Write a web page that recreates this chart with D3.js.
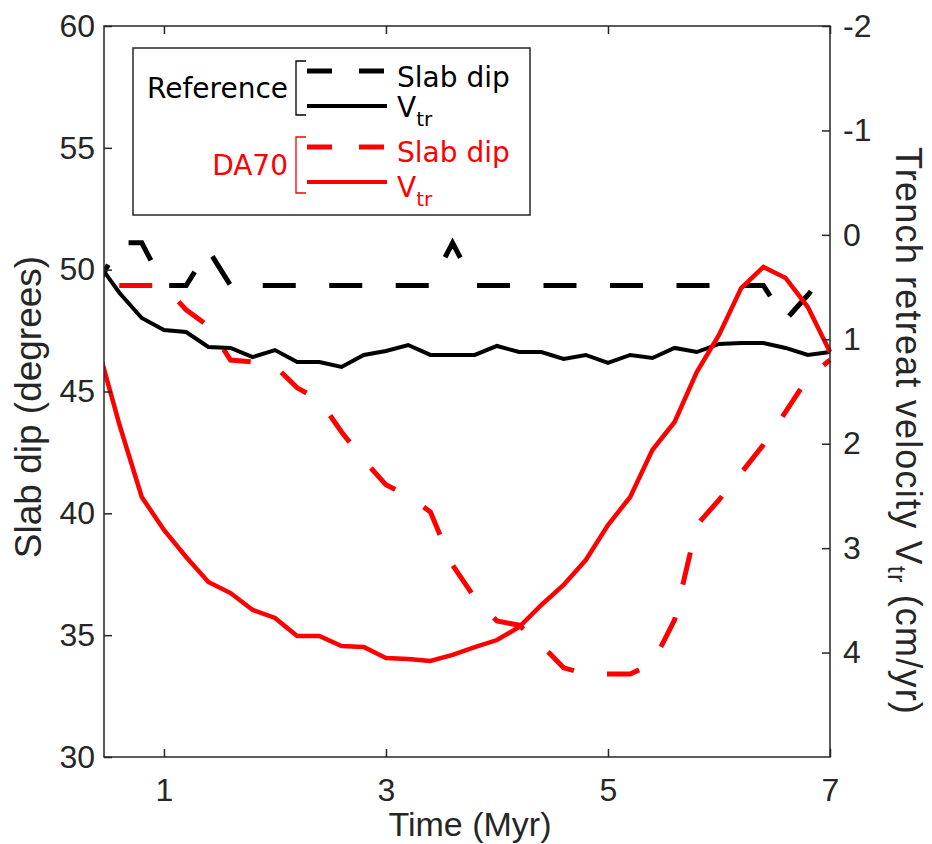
<!DOCTYPE html>
<html>
<head>
<meta charset="utf-8">
<script src="https://cdn.jsdelivr.net/npm/d3@7"></script>
<style>
  html, body { margin: 0; padding: 0; background: #fff; }
  svg { display: block; }
</style>
</head>
<body>
<svg id="chart" width="932" height="844"></svg>
<script>
// Model time (Myr)
const times = [0.4, 0.6, 0.8, 1.0, 1.2, 1.4, 1.6, 1.8, 2.0, 2.2, 2.4, 2.6, 2.8, 3.0, 3.2, 3.4, 3.6,
               3.8, 4.0, 4.2, 4.4, 4.6, 4.8, 5.0, 5.2, 5.4, 5.6, 5.8, 6.0, 6.2, 6.4, 6.6, 6.8, 7.0];

// Reference model: slab dip (degrees) and trench retreat velocity (cm/yr)
const refDip = [49.35, 51.10, 51.10, 49.35, 49.35, 50.81, 49.35, 49.35, 49.35, 49.35, 49.35, 49.35,
                49.35, 49.35, 49.35, 49.35, 51.10, 49.35, 49.35, 49.35, 49.35, 49.35, 49.35, 49.35,
                49.35, 49.35, 49.35, 49.35, 49.35, 49.35, 49.35, 47.94, 48.96, 50.07];
const refVtr = [0.26, 0.557, 0.796, 0.911, 0.93, 1.074, 1.083, 1.17, 1.103, 1.217, 1.217, 1.265,
                1.15, 1.112, 1.055, 1.15, 1.15, 1.15, 1.064, 1.122, 1.122, 1.189, 1.15, 1.227,
                1.15, 1.179, 1.083, 1.122, 1.045, 1.036, 1.036, 1.083, 1.15, 1.122];

// DA70 model
const daDip = [49.35, 49.35, 49.35, 49.35, 48.35, 47.69, 46.29, 46.21, 46.05, 45.15, 44.65, 43.34,
               42.19, 41.17, 40.71, 40.06, 37.88, 36.53, 35.58, 35.41, 34.60, 33.66, 33.41, 33.41,
               33.41, 33.82, 35.63, 39.52, 40.55, 41.66, 42.81, 44.16, 45.56, 46.29];
const daVtr = [1.055, 1.821, 2.51, 2.826, 3.085, 3.324, 3.43, 3.592, 3.669, 3.841, 3.841, 3.937,
               3.947, 4.052, 4.062, 4.081, 4.023, 3.947, 3.88, 3.755, 3.544, 3.353, 3.114, 2.779,
               2.51, 2.06, 1.792, 1.313, 0.959, 0.509, 0.308, 0.413, 0.691, 1.122];

// Tick values
const xTicks = [1, 3, 5, 7];
const dipTicks = [30, 35, 40, 45, 50, 55, 60];
const vtrTicks = [-2, -1, 0, 1, 2, 3, 4];

const AX = "#262626";
const RED = "#ff0000";
const FONT = "'Liberation Sans', Arial, Helvetica, sans-serif";
const LFONT = "'DejaVu Sans', Verdana, sans-serif";
const DASH = 33, GAP = 33.5;

const m = { left: 104, right: 830, top: 26, bottom: 757 };
const svg = d3.select("#chart");
svg.append("rect").attr("width", 932).attr("height", 844).attr("fill", "#fff");

const x = d3.scaleLinear().domain([0.46, 7]).range([m.left, m.right]);
const yDip = d3.scaleLinear().domain([30, 60]).range([m.bottom, m.top]);
const yVtr = d3.scaleLinear().domain([-2, 5]).range([m.top, m.bottom]);

// clip lines to the axes box
svg.append("clipPath").attr("id", "plotclip")
  .append("rect").attr("x", m.left).attr("y", m.top)
  .attr("width", m.right - m.left + 2).attr("height", m.bottom - m.top);

const plot = svg.append("g").attr("clip-path", "url(#plotclip)");

// path length from the first vertex up to screen position xs
function lengthTo(vals, yScale, xs) {
  let L = 0;
  for (let i = 1; i < vals.length; i++) {
    const x0 = x(times[i - 1]), x1 = x(times[i]);
    const y0 = yScale(vals[i - 1]), y1 = yScale(vals[i]);
    const d = Math.hypot(x1 - x0, y1 - y0);
    if (x1 < xs) { L += d; } else { L += d * (xs - x0) / (x1 - x0); break; }
  }
  return L;
}

function drawLine(vals, yScale, color, width, dashStartX) {
  const line = d3.line().x((d, i) => x(times[i])).y(d => yScale(d));
  const p = plot.append("path")
    .datum(vals)
    .attr("d", line)
    .attr("fill", "none")
    .attr("stroke", color)
    .attr("stroke-width", width)
    .attr("stroke-linejoin", "miter");
  if (dashStartX != null) {
    const period = DASH + GAP;
    const L = lengthTo(vals, yScale, dashStartX);
    p.attr("stroke-dasharray", `${DASH},${GAP}`)
     .attr("stroke-dashoffset", period - (L % period));
  }
  return p;
}

// left-axis series first, then right-axis series on top
drawLine(refDip, yDip, "#000", 5, 477);
drawLine(daDip, yDip, RED, 5, 607);
drawLine(refVtr, yVtr, "#000", 4, null);
drawLine(daVtr, yVtr, RED, 4.5, null);

// axes (ticks pointing inward)
function styleAxis(g) {
  g.select(".domain").remove();
  g.selectAll(".tick line").attr("stroke", AX).attr("stroke-width", 1.5);
  g.selectAll(".tick text").attr("fill", AX).style("font-family", FONT).style("font-size", "32px");
}

svg.append("g").attr("transform", `translate(0,${m.bottom})`)
  .call(d3.axisBottom(x).tickValues(xTicks).tickSize(-8).tickPadding(21).tickFormat(d3.format("d")))
  .call(styleAxis);
svg.append("g").attr("transform", `translate(0,${m.top})`)
  .call(d3.axisTop(x).tickValues(xTicks).tickSize(-8).tickFormat(""))
  .call(styleAxis);
svg.append("g").attr("transform", `translate(${m.left},0)`)
  .call(d3.axisLeft(yDip).tickValues(dipTicks).tickSize(-8).tickPadding(9).tickFormat(d3.format("d")))
  .call(styleAxis);
svg.append("g").attr("transform", `translate(${m.right},0)`)
  .call(d3.axisRight(yVtr).tickValues(vtrTicks).tickSize(-8).tickPadding(13).tickFormat(d => d < 0 ? "-" + Math.abs(d) : String(d)))
  .call(styleAxis);

// frame
svg.append("rect")
  .attr("x", m.left).attr("y", m.top)
  .attr("width", m.right - m.left).attr("height", m.bottom - m.top)
  .attr("fill", "none").attr("stroke", AX).attr("stroke-width", 1.5);

// axis titles
svg.append("text")
  .attr("x", 470).attr("y", 836)
  .attr("text-anchor", "middle")
  .style("font-family", FONT).style("font-size", "34px").attr("fill", AX)
  .text("Time (Myr)");

svg.append("text")
  .attr("transform", "translate(41,407) rotate(-90)")
  .attr("text-anchor", "middle")
  .style("font-family", FONT).style("font-size", "37px").attr("fill", AX)
  .text("Slab dip (degrees)");

const rt = svg.append("text")
  .attr("transform", "translate(896,431) rotate(90)")
  .attr("text-anchor", "middle")
  .style("font-family", FONT).style("font-size", "36px")
  .style("letter-spacing", "1.2px").attr("fill", AX);
rt.append("tspan").text("Trench retreat velocity V");
rt.append("tspan").attr("dy", 8).style("font-size", "25px").text("tr");
rt.append("tspan").attr("dy", -8).text(" (cm/yr)");

// legend
const lg = svg.append("g");
lg.append("rect")
  .attr("x", 133).attr("y", 48).attr("width", 397).attr("height", 167)
  .attr("fill", "#fff").attr("stroke", AX).attr("stroke-width", 1.5);

function legendGroup(label, color, yTop, yBot, yDash, ySolid, yDipText, yVText) {
  lg.append("text")
    .attr("x", 288).attr("y", (yTop + yBot) / 2).attr("dy", "0.36em")
    .attr("text-anchor", "end")
    .style("font-family", LFONT).style("font-size", "28px").attr("fill", color)
    .text(label);
  lg.append("path")
    .attr("d", `M306,${yTop}H296V${yBot}H306`)
    .attr("fill", "none").attr("stroke", color).attr("stroke-width", 1.3);
  lg.append("line")
    .attr("x1", 307).attr("x2", 384).attr("y1", yDash).attr("y2", yDash)
    .attr("stroke", color).attr("stroke-width", 5).attr("stroke-dasharray", "25,27");
  lg.append("line")
    .attr("x1", 307).attr("x2", 387).attr("y1", ySolid).attr("y2", ySolid)
    .attr("stroke", color).attr("stroke-width", 4);
  lg.append("text")
    .attr("x", 397).attr("y", yDipText).attr("dy", "0.36em")
    .style("font-family", LFONT).style("font-size", "28px").attr("fill", color)
    .text("Slab dip");
  const v = lg.append("text")
    .attr("x", 397).attr("y", yVText).attr("dy", "0.36em")
    .style("font-family", LFONT).style("font-size", "28px").attr("fill", color);
  v.append("tspan").text("V");
  v.append("tspan").attr("dy", 9).style("font-size", "20px").text("tr");
}

legendGroup("Reference", "#000", 61, 115, 71, 106, 77, 107);
legendGroup("DA70", RED, 137, 193, 147, 182, 152, 187);
</script>
</body>
</html>
